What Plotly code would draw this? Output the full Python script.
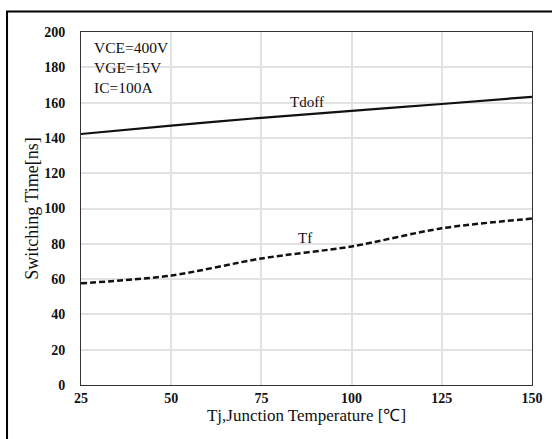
import plotly.graph_objects as go

temps = [25, 50, 75, 100, 125, 150]
tdoff = [142.2, 146.9, 151.4, 155.3, 159.2, 163.3]
tf = [57.6, 62.0, 71.7, 78.5, 88.8, 94.3]
x_ticks = [25, 50, 75, 100, 125, 150]
y_ticks = [0, 20, 40, 60, 80, 100, 120, 140, 160, 180, 200]
conditions = ["VCE=400V", "VGE=15V", "IC=100A"]

SERIF = "Liberation Serif, Times New Roman, serif"

fig = go.Figure()
fig.add_trace(go.Scatter(x=temps, y=tdoff, mode="lines", name="Tdoff",
                         line=dict(color="#111111", width=2.2, shape="spline", smoothing=0.6)))
fig.add_trace(go.Scatter(x=temps, y=tf, mode="lines", name="Tf",
                         line=dict(color="#111111", width=2.5, dash="6px,3px", shape="spline", smoothing=0.8)))

fig.add_annotation(x=87.6, y=160.5, text="Tdoff", showarrow=False,
                   font=dict(family=SERIF, size=15, color="#111111"))
fig.add_annotation(x=87, y=83.5, text="Tf", showarrow=False,
                   font=dict(family=SERIF, size=15, color="#111111"))
fig.add_annotation(xref="paper", yref="paper", x=0.024, y=0.985, xanchor="left", yanchor="top",
                   text="<br>".join(conditions), showarrow=False, align="left",
                   font=dict(family=SERIF, size=15.5, color="#111111"))

# outer frame
fig.add_shape(type="rect", xref="paper", yref="paper", x0=-0.164, x1=1.06, y0=-0.16, y1=1.058,
              line=dict(color="#000000", width=2), layer="below")

fig.update_layout(
    width=552, height=439,
    margin=dict(l=81, r=20, t=32, b=54, autoexpand=False),
    paper_bgcolor="white", plot_bgcolor="white",
    showlegend=False,
    font=dict(family=SERIF, color="#111111"),
)
fig.update_xaxes(range=[25, 150], tickvals=x_ticks, ticktext=[str(v) for v in x_ticks],
                 showgrid=True, gridcolor="#e2e2e2", gridwidth=1.5,
                 showline=True, linecolor="#333333", linewidth=1, mirror=True,
                 zeroline=False, ticks="", ticklabelstandoff=0, automargin=False,
                 tickfont=dict(family=SERIF, size=14, color="#111111", weight="bold"),
                 title=dict(text="Tj,Junction Temperature [℃]", standoff=0,
                            font=dict(family=SERIF, size=17, color="#111111")))
fig.update_yaxes(range=[0, 200], tickvals=y_ticks, ticktext=[str(v) for v in y_ticks],
                 showgrid=True, gridcolor="#e2e2e2", gridwidth=1.5,
                 showline=True, linecolor="#333333", linewidth=1, mirror=True,
                 zeroline=False, ticks="", ticklabelstandoff=12, automargin=False,
                 tickfont=dict(family=SERIF, size=14, color="#111111", weight="bold"),
                 title=dict(text="Switching Time[ns]", standoff=0,
                            font=dict(family=SERIF, size=18, color="#111111")))

fig.write_html("out.html", config={"displayModeBar": False},
               post_script="document.body.style.margin='0';")
